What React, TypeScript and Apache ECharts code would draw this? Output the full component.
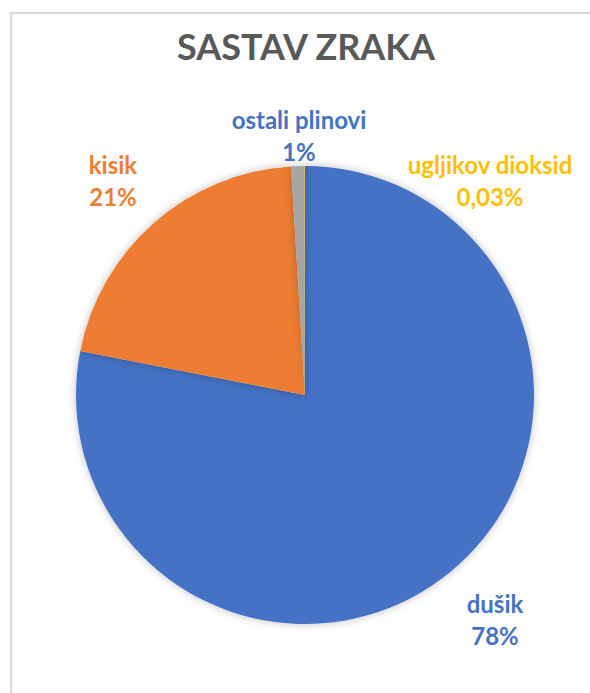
import React, { useEffect, useRef } from "react";
import * as echarts from "echarts";

const title = "SASTAV ZRAKA";
const categories = ["dušik", "kisik", "ostali plinovi", "ugljikov dioksid"];
const values = [78.08, 20.95, 0.94, 0.03];
const colors = ["#4472C4", "#ED7D31", "#A5A5A5", "#FFC000"];
const labelColors = ["#4472C4", "#ED7D31", "#4472C4", "#FFC000"];
const labelPos = [
  [495, 603],
  [113, 164],
  [299, 119],
  [490, 164],
];

function fmtPct(p: number): string {
  if (p >= 0.5) return Math.round(p) + "%";
  return p.toFixed(2).replace(".", ",") + "%";
}

export default function App() {
  const ref = useRef<HTMLDivElement>(null);
  useEffect(() => {
    const chart = echarts.init(ref.current!, null, { renderer: "svg" });
    const font = "Lato, 'Open Sans', sans-serif";
    chart.setOption({
      animation: false,
      backgroundColor: "#ffffff",
      graphic: [
        {
          type: "rect",
          shape: { x: 11, y: 13, width: 620, height: 720 },
          style: { fill: "none", stroke: "#D9D9D9", lineWidth: 2 },
          silent: true,
        },
        {
          type: "text",
          x: 306,
          y: 46,
          style: {
            text: title,
            fontFamily: font,
            fontSize: 36,
            fontWeight: "bold",
            fill: "#595959",
            align: "center",
            verticalAlign: "middle",
          },
          silent: true,
        },
      ],
      series: [
        {
          type: "pie",
          center: [305, 395],
          radius: [0, 229],
          startAngle: 90,
          clockwise: true,
          avoidLabelOverlap: false,
          data: categories.map((c, i) => ({
            name: c,
            value: values[i],
            itemStyle: { color: colors[i] },
            label: { color: labelColors[i] },
          })),
          itemStyle: {
            borderWidth: 0,
            shadowBlur: 8,
            shadowColor: "rgba(0,0,0,0.25)",
          },
          label: {
            show: true,
            position: "outside",
            fontFamily: font,
            fontSize: 24,
            fontWeight: "bold",
            lineHeight: 32,
            align: "center",
            formatter: (p: any) => p.name + "\n" + fmtPct(p.percent),
          },
          labelLine: { show: false },
          labelLayout: (params: any) => {
            const pos = labelPos[params.dataIndex];
            return {
              x: pos[0],
              y: pos[1] + 16,
              align: "center",
              verticalAlign: "middle",
            };
          },
        },
      ],
    });
    return () => chart.dispose();
  }, []);
  return (
    <div
      ref={ref}
      style={{ position: "fixed", left: 0, top: 0, width: 590, height: 693 }}
    />
  );
}
